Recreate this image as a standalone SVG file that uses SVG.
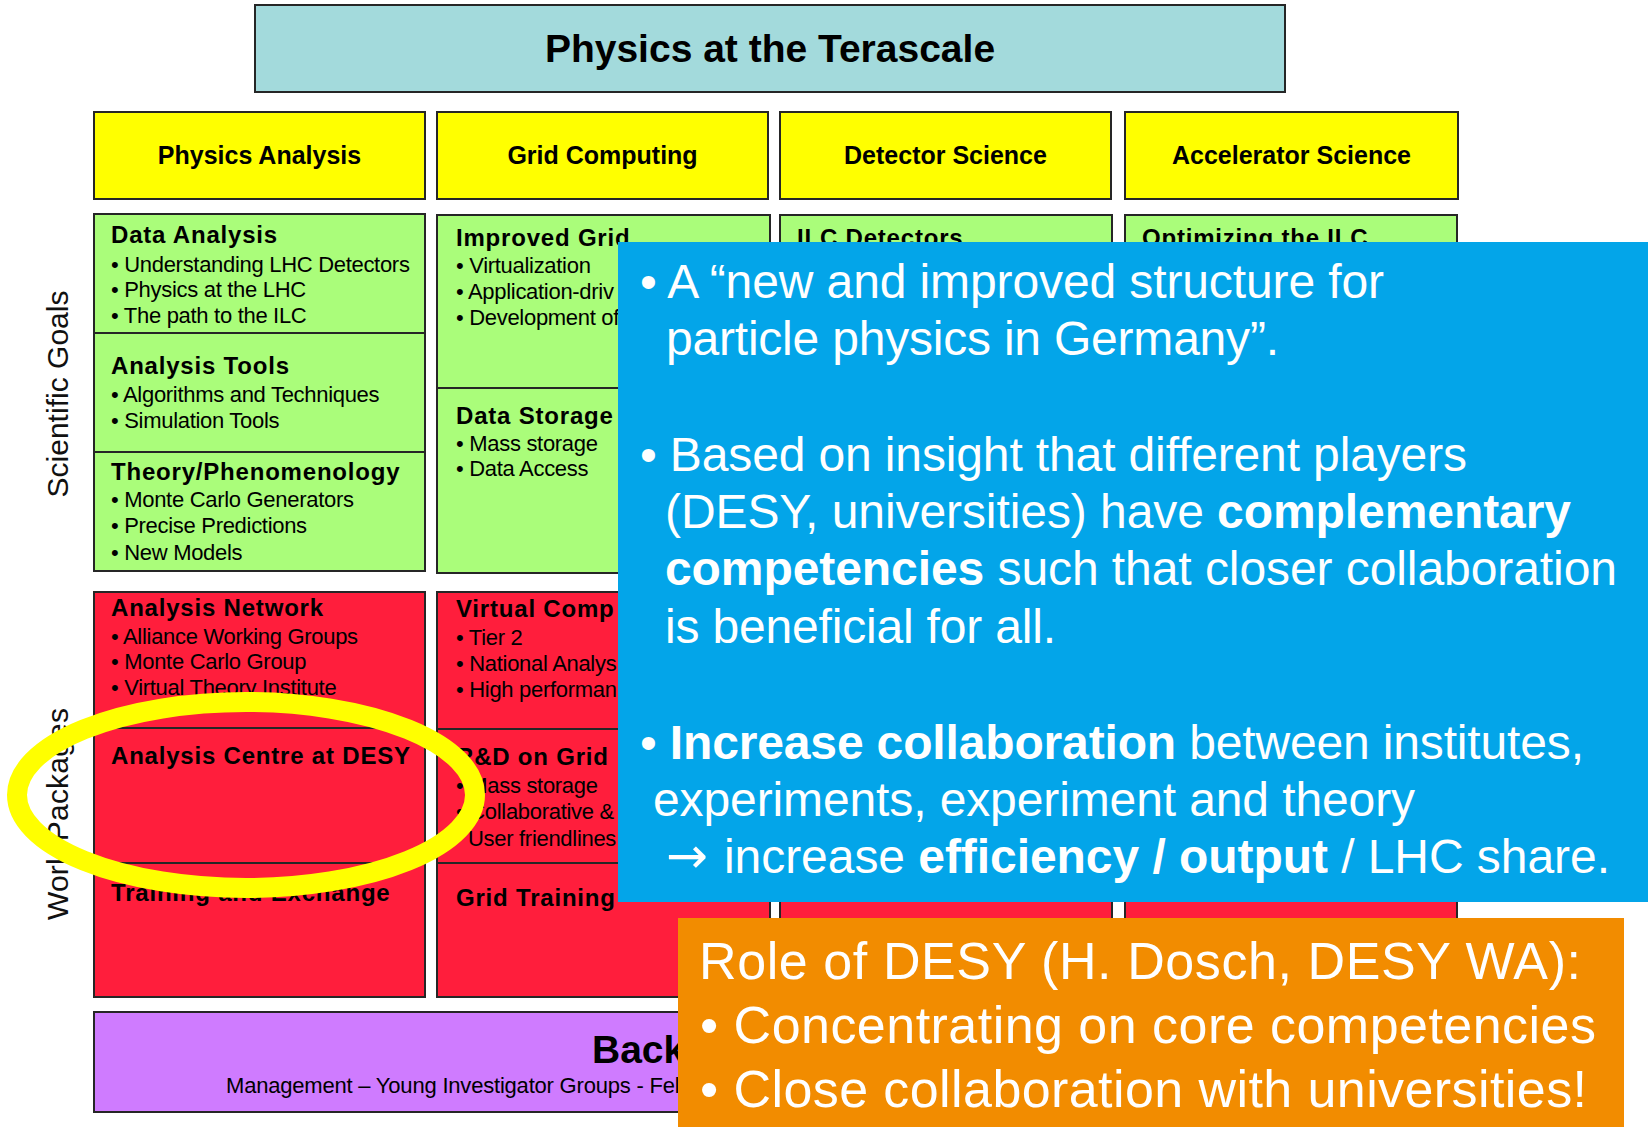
<svg xmlns="http://www.w3.org/2000/svg" width="1648" height="1127" viewBox="0 0 1648 1127">
  <style>
    text { font-family: "Liberation Sans", Arial, Helvetica, sans-serif; fill: #000; }
    .box { stroke: #262626; stroke-width: 2; }
    .title { fill: #a3dadc; }
    .col { fill: #ffff00; }
    .goal { fill: #aafd7a; }
    .wp { fill: #ff1e3c; }
    .base { fill: #cf7bff; }
    .t-title { font-size: 39px; font-weight: bold; text-anchor: middle; }
    .t-col { font-size: 25px; font-weight: bold; text-anchor: middle; }
    .t-head { font-size: 24px; font-weight: bold; letter-spacing: 0.8px; }
    .t-item { font-size: 22px; letter-spacing: -0.3px; }
    .t-side { font-size: 30px; text-anchor: middle; fill: #111; }
    .t-note { fill: #fff; font-size: 48px; }
    .t-role { fill: #fff; font-size: 52px; }
    .b { font-weight: bold; fill: #fff; }
    .arrow { font-family: "DejaVu Sans", sans-serif; font-size: 50px; fill: #fff; }
  </style>

  <rect width="1648" height="1127" fill="#ffffff"/>

  <!-- top banner -->
  <g id="terascale">
    <rect class="box title" x="255" y="5" width="1030" height="87"/>
    <text class="t-title" x="770" y="62">Physics at the Terascale</text>
  </g>

  <!-- column headers -->
  <g id="col-physics-analysis">
    <rect class="box col" x="94" y="112" width="331" height="87"/>
    <text class="t-col" x="259.5" y="164">Physics Analysis</text>
  </g>
  <g id="col-grid-computing">
    <rect class="box col" x="437" y="112" width="331" height="87"/>
    <text class="t-col" x="602.5" y="164">Grid Computing</text>
  </g>
  <g id="col-detector-science">
    <rect class="box col" x="780" y="112" width="331" height="87"/>
    <text class="t-col" x="945.5" y="164">Detector Science</text>
  </g>
  <g id="col-accelerator-science">
    <rect class="box col" x="1125" y="112" width="333" height="87"/>
    <text class="t-col" x="1291.5" y="164">Accelerator Science</text>
  </g>

  <!-- row labels -->
  <g id="label-scientific-goals">
    <text class="t-side" transform="translate(68,394) rotate(-90)" textLength="207">Scientific Goals</text>
  </g>
  <g id="label-work-packages">
    <text class="t-side" transform="translate(68,814) rotate(-90)" textLength="212">Work Packages</text>
  </g>

  <!-- scientific goals: physics analysis -->
  <g id="goal-data-analysis">
    <rect class="box goal" x="94" y="214" width="331" height="119"/>
    <text class="t-head" x="111" y="243">Data Analysis</text>
    <text class="t-item" x="111" y="272">• Understanding LHC Detectors</text>
    <text class="t-item" x="111" y="297">• Physics at the LHC</text>
    <text class="t-item" x="111" y="323">• The path to the ILC</text>
  </g>
  <g id="goal-analysis-tools">
    <rect class="box goal" x="94" y="333" width="331" height="119"/>
    <text class="t-head" x="111" y="374">Analysis Tools</text>
    <text class="t-item" x="111" y="402">• Algorithms and Techniques</text>
    <text class="t-item" x="111" y="428">• Simulation Tools</text>
  </g>
  <g id="goal-theory">
    <rect class="box goal" x="94" y="452" width="331" height="119"/>
    <text class="t-head" x="111" y="480">Theory/Phenomenology</text>
    <text class="t-item" x="111" y="507">• Monte Carlo Generators</text>
    <text class="t-item" x="111" y="533">• Precise Predictions</text>
    <text class="t-item" x="111" y="560">• New Models</text>
  </g>

  <!-- scientific goals: grid computing -->
  <g id="goal-improved-grid">
    <rect class="box goal" x="437" y="215" width="333" height="173"/>
    <text class="t-head" x="456" y="246">Improved Grid</text>
    <text class="t-item" x="456" y="273">• Virtualization</text>
    <text class="t-item" x="456" y="299">• Application-driv</text>
    <text class="t-item" x="456" y="325">• Development of</text>
  </g>
  <g id="goal-data-storage">
    <rect class="box goal" x="437" y="388" width="333" height="185"/>
    <text class="t-head" x="456" y="424">Data Storage</text>
    <text class="t-item" x="456" y="451">• Mass storage</text>
    <text class="t-item" x="456" y="476">• Data Access</text>
  </g>

  <!-- scientific goals: detector and accelerator science -->
  <g id="goal-ilc-detectors">
    <rect class="box goal" x="780" y="215" width="332" height="358"/>
    <text class="t-head" x="797" y="246">ILC Detectors</text>
  </g>
  <g id="goal-optimizing-ilc">
    <rect class="box goal" x="1125" y="215" width="332" height="358"/>
    <text class="t-head" x="1142" y="246">Optimizing the ILC</text>
  </g>

  <!-- work packages: physics analysis -->
  <g id="wp-analysis-network">
    <rect class="box wp" x="94" y="592" width="331" height="136"/>
    <text class="t-head" x="111" y="616">Analysis Network</text>
    <text class="t-item" x="111" y="644">• Alliance Working Groups</text>
    <text class="t-item" x="111" y="669">• Monte Carlo Group</text>
    <text class="t-item" x="111" y="695">• Virtual Theory Institute</text>
  </g>
  <g id="wp-analysis-centre">
    <rect class="box wp" x="94" y="728" width="331" height="135"/>
    <text class="t-head" x="111" y="764">Analysis Centre at DESY</text>
  </g>
  <g id="wp-training">
    <rect class="box wp" x="94" y="863" width="331" height="134"/>
    <text class="t-head" x="111" y="901">Training and Exchange</text>
  </g>

  <!-- work packages: grid computing -->
  <g id="wp-virtual-computing">
    <rect class="box wp" x="437" y="592" width="333" height="137"/>
    <text class="t-head" x="456" y="617">Virtual Comp</text>
    <text class="t-item" x="456" y="645">• Tier 2</text>
    <text class="t-item" x="456" y="671">• National Analys</text>
    <text class="t-item" x="456" y="697">• High performan</text>
  </g>
  <g id="wp-grid-rd">
    <rect class="box wp" x="437" y="729" width="333" height="134"/>
    <text class="t-head" x="456" y="765">R&amp;D on Grid</text>
    <text class="t-item" x="456" y="793">• Mass storage</text>
    <text class="t-item" x="456" y="819">• Collaborative &amp;</text>
    <text class="t-item" x="468" y="846">User friendlines</text>
  </g>
  <g id="wp-grid-training">
    <rect class="box wp" x="437" y="863" width="333" height="134"/>
    <text class="t-head" x="456" y="906">Grid Training</text>
  </g>

  <!-- work packages: detector and accelerator science -->
  <g id="wp-detector">
    <rect class="box wp" x="780" y="592" width="332" height="405"/>
  </g>
  <g id="wp-accelerator">
    <rect class="box wp" x="1125" y="592" width="332" height="405"/>
  </g>

  <!-- backbone -->
  <g id="backbone">
    <rect class="box base" x="94" y="1012" width="1364" height="100"/>
    <text x="592" y="1063" font-size="39" font-weight="bold">Back</text>
    <text x="226" y="1093" font-size="22" letter-spacing="-0.2">Management – Young Investigator Groups - Fel</text>
  </g>

  <!-- highlight ring -->
  <g id="highlight">
    <ellipse cx="246" cy="795" rx="229" ry="93" fill="none" stroke="#ffff00" stroke-width="20"/>
  </g>

  <!-- blue note panel -->
  <g id="note-panel">
    <rect x="618" y="242" width="1030" height="660" fill="#03a5e9"/>
    <text class="t-note" x="640" y="298" textLength="744">• A “new and improved structure for</text>
    <text class="t-note" x="666" y="355" textLength="613">particle physics in Germany”.</text>
    <text class="t-note" x="640" y="471" textLength="827">• Based on insight that different players</text>
    <text class="t-note" x="665" y="528" textLength="906">(DESY, universities) have <tspan class="b">complementary</tspan></text>
    <text class="t-note" x="665" y="585" textLength="952"><tspan class="b">competencies</tspan> such that closer collaboration</text>
    <text class="t-note" x="665" y="643" textLength="391">is beneficial for all.</text>
    <text class="t-note" x="640" y="759" textLength="944">• <tspan class="b">Increase collaboration</tspan> between institutes,</text>
    <text class="t-note" x="653" y="816" textLength="762">experiments, experiment and theory</text>
    <text class="t-note" x="666" y="873"><tspan class="arrow">→</tspan></text>
    <text class="t-note" x="724" y="873" textLength="886">increase <tspan class="b">efficiency / output</tspan> / LHC share.</text>
  </g>

  <!-- orange role panel -->
  <g id="role-panel">
    <rect x="678" y="918" width="946" height="209" fill="#f28c00"/>
    <text class="t-role" x="699" y="979" textLength="882">Role of DESY (H. Dosch, DESY WA):</text>
    <text class="t-role" x="700" y="1043" textLength="896">• Concentrating on core competencies</text>
    <text class="t-role" x="700" y="1107" textLength="887">• Close collaboration with universities!</text>
  </g>
</svg>
